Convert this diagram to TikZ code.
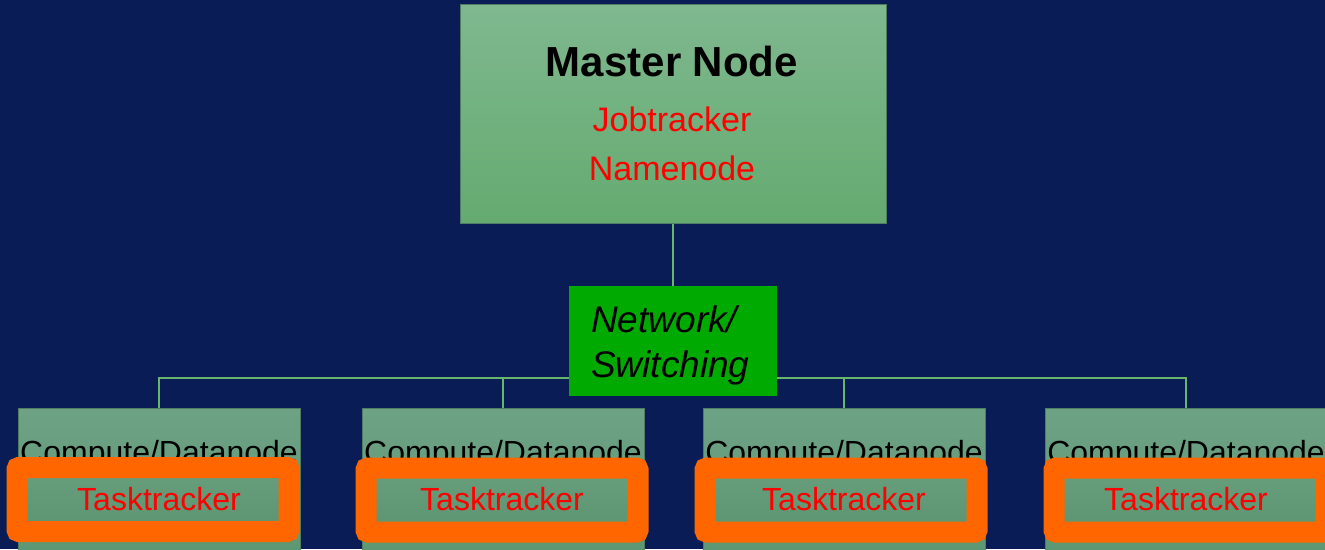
\documentclass[tikz,border=0pt]{standalone}
\usepackage{fontspec}
\setmainfont{Liberation Sans}
\usetikzlibrary{calc}

\definecolor{bgblue}{RGB}{10,28,86}
\definecolor{mastertop}{RGB}{127,184,143}
\definecolor{masterbot}{RGB}{101,170,112}
\definecolor{boxedge}{RGB}{78,125,98}
\definecolor{comptop}{RGB}{110,162,133}
\definecolor{compbot}{RGB}{86,148,108}
\definecolor{tasktop}{RGB}{104,158,124}
\definecolor{taskbot}{RGB}{92,148,112}
\definecolor{switchgreen}{RGB}{0,170,0}
\definecolor{wiregreen}{RGB}{104,182,108}
\definecolor{ringorange}{RGB}{255,102,0}
\definecolor{labelred}{RGB}{255,0,0}

\begin{document}
\begin{tikzpicture}[x=1pt, y=-1pt,
    masterbox/.style={draw=boxedge, line width=1pt, top color=mastertop,
        bottom color=masterbot, minimum width=426pt, minimum height=219pt,
        inner sep=0pt},
    compbox/.style={draw=boxedge, line width=1pt, top color=comptop,
        bottom color=compbot, minimum width=282pt, minimum height=200pt,
        inner sep=0pt, anchor=north},
    switchbox/.style={fill=switchgreen, minimum width=208pt,
        minimum height=110pt, inner sep=0pt},
    switchtext/.style={anchor=base west, inner sep=0pt,
        font=\fontsize{37}{45}\selectfont\itshape},
    trackring/.style={draw=ringorange, line width=21pt, rounded corners=2pt,
        top color=tasktop, bottom color=taskbot, minimum width=272pt,
        minimum height=64pt},
    tasktext/.style={anchor=base, text=labelred, font=\fontsize{32}{38}\selectfont},
    titletext/.style={anchor=base, font=\fontsize{42}{48}\selectfont\bfseries},
    redtext/.style={anchor=base, text=labelred, font=\fontsize{34}{40}\selectfont},
    comptext/.style={anchor=base, font=\fontsize{32}{38}\selectfont},
    wire/.style={draw=wiregreen, line width=2pt}]

    \clip (0,0) rectangle (1325,549);
    \fill[bgblue] (0,0) rectangle (1325,549);

    % master
    \node[masterbox] (master) at (673,113.5) {};
    \node[titletext] (mtitle) at (672,76) {Master Node};
    \node[redtext] (jt) at (672,131) {Jobtracker};
    \node[redtext] (nn) at (672,180) {Namenode};

    % compute nodes
    \node[compbox] (c1) at (159,408) {};
    \node[compbox] (c2) at (503,408) {};
    \node[compbox] (c3) at (844,408) {};
    \node[compbox] (c4) at (1186,408) {};
    \node[comptext] (c1t) at (159,463) {Compute/Datanode};
    \node[comptext] (c2t) at (503,463) {Compute/Datanode};
    \node[comptext] (c3t) at (844,463) {Compute/Datanode};
    \node[comptext] (c4t) at (1186,463) {Compute/Datanode};

    \node[trackring] (t1) at (153,499.5) {};
    \node[trackring] (t2) at (502,500) {};
    \node[trackring] (t3) at (841,500) {};
    \node[trackring] (t4) at (1190,500) {};
    \node[tasktext] (t1t) at (159,510) {Tasktracker};
    \node[tasktext] (t2t) at (502,510) {Tasktracker};
    \node[tasktext] (t3t) at (844,510) {Tasktracker};
    \node[tasktext] (t4t) at (1186,510) {Tasktracker};

    % wiring
    \coordinate (bus) at (672,378);
    \draw[wire] (c1.north) |- (bus) -| (c4.north);
    \draw[wire] (c2.north) -- (c2.north |- bus);
    \draw[wire] (c3.north) -- (c3.north |- bus);

    \node[switchbox] (sw) at (673,341) {};
    \node[switchtext] (net) at (591,332) {Network/};
    \node[switchtext] (swg) at (591,377) {Switching};
    \draw[wire] (master) -- (sw);
\end{tikzpicture}
\end{document}
